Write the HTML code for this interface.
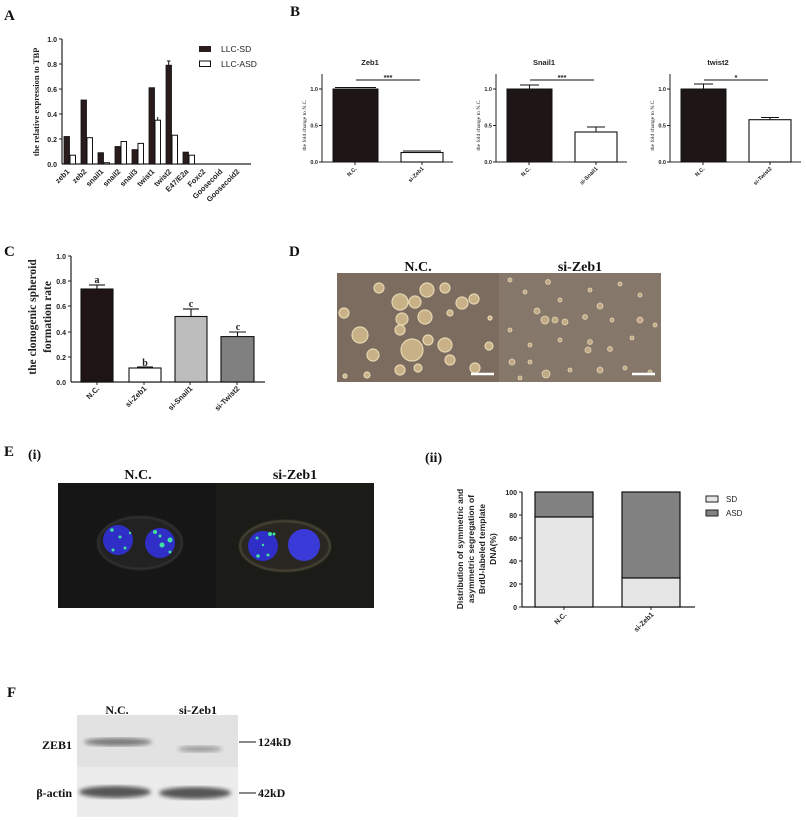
<!DOCTYPE html>
<html><head><meta charset="utf-8"><style>body{margin:0;background:#fff}svg{display:block}</style></head><body>
<svg width="806" height="820" xmlns="http://www.w3.org/2000/svg">
<defs>
<filter id="blur2"><feGaussianBlur stdDeviation="2"/></filter>
<filter id="blur1"><feGaussianBlur stdDeviation="0.8"/></filter>
</defs>
<g font-family="Liberation Serif" font-weight="bold" font-size="15" fill="#111">
<text x="4" y="20">A</text><text x="290" y="16">B</text><text x="4" y="256">C</text><text x="289" y="256">D</text><text x="4" y="456">E</text><text x="7" y="697">F</text>
<text x="28" y="459" font-size="14">(i)</text><text x="425" y="462" font-size="14">(ii)</text>
</g>

<!-- Panel A -->
<g font-family="Liberation Sans" font-weight="bold" font-size="7" fill="#222">
<line x1="62" y1="39" x2="62" y2="164" stroke="#222" stroke-width="1.2"/>
<line x1="62" y1="164" x2="251" y2="164" stroke="#222" stroke-width="1.2"/>
<g text-anchor="end">
<text x="57" y="42">1.0</text><text x="57" y="67">0.8</text><text x="57" y="92">0.6</text><text x="57" y="117">0.4</text><text x="57" y="142">0.2</text><text x="57" y="167">0.0</text></g>
<g stroke="#222"><line x1="59" y1="39" x2="62" y2="39"/><line x1="59" y1="64" x2="62" y2="64"/><line x1="59" y1="89" x2="62" y2="89"/><line x1="59" y1="114" x2="62" y2="114"/><line x1="59" y1="139" x2="62" y2="139"/></g>
<g fill="#2a1c1c" stroke="#111" stroke-width="0.8">
<rect x="64" y="136.5" width="5.5" height="27.5"/><rect x="81" y="100" width="5.5" height="64"/><rect x="98" y="152.7" width="5.5" height="11.3"/><rect x="115" y="146.5" width="5.5" height="17.5"/><rect x="132" y="149.6" width="5.5" height="14.4"/><rect x="149" y="87.7" width="5.5" height="76.3"/><rect x="166" y="65.2" width="5.5" height="98.8"/><rect x="183" y="152.1" width="5.5" height="11.9"/>
</g>
<g fill="#fff" stroke="#111" stroke-width="1">
<rect x="70" y="155.2" width="5.5" height="8.8"/><rect x="87" y="137.7" width="5.5" height="26.3"/><rect x="104" y="162.7" width="5.5" height="1.3"/><rect x="121" y="141.5" width="5.5" height="22.5"/><rect x="138" y="143.4" width="5.5" height="20.6"/><rect x="155" y="120.2" width="5.5" height="43.8"/><rect x="172" y="135.2" width="5.5" height="28.8"/><rect x="189" y="155.2" width="5.5" height="8.8"/>
</g>
<line x1="168.7" y1="61" x2="168.7" y2="65" stroke="#111"/><line x1="167" y1="61" x2="170.5" y2="61" stroke="#111"/>
<line x1="157.7" y1="117" x2="157.7" y2="120" stroke="#111"/>
<rect x="199" y="46" width="12" height="6" fill="#2a1c1c"/><rect x="199.5" y="61" width="11" height="5.5" fill="#fff" stroke="#111"/>
<text x="221" y="52" font-weight="normal" font-size="8.5">LLC-SD</text><text x="221" y="67" font-weight="normal" font-size="8.5">LLC-ASD</text>
<g text-anchor="end" font-size="7.5">
<text transform="translate(70,172) rotate(-45)">zeb1</text><text transform="translate(87,172) rotate(-45)">zeb2</text><text transform="translate(104,172) rotate(-45)">snail1</text><text transform="translate(121,172) rotate(-45)">snail2</text><text transform="translate(138,172) rotate(-45)">snail3</text><text transform="translate(155,172) rotate(-45)">twist1</text><text transform="translate(172,172) rotate(-45)">twist2</text><text transform="translate(189,172) rotate(-45)">E47/E2a</text><text transform="translate(206,172) rotate(-45)">Foxc2</text><text transform="translate(223,172) rotate(-45)">Goosecoid</text><text transform="translate(240,172) rotate(-45)">Goosecoid2</text>
</g>
<text transform="translate(39,102) rotate(-90)" text-anchor="middle" font-family="Liberation Serif" font-size="8.5">the relative expression  to TBP</text>
</g>

<!-- Panel B -->
<g font-family="Liberation Sans" fill="#222">
<g id="b1">
<line x1="322" y1="74" x2="322" y2="162" stroke="#222"/><line x1="322" y1="162" x2="453" y2="162" stroke="#222"/>
<g stroke="#222"><line x1="319" y1="89" x2="322" y2="89"/><line x1="319" y1="125.5" x2="322" y2="125.5"/><line x1="319" y1="162" x2="322" y2="162"/><line x1="355" y1="162" x2="355" y2="165"/><line x1="422" y1="162" x2="422" y2="165"/></g>
<g font-size="5.5" font-weight="bold" text-anchor="end"><text x="318" y="91">1.0</text><text x="318" y="127.5">0.5</text><text x="318" y="164">0.0</text></g>
<text transform="translate(306,125) rotate(-90)" text-anchor="middle" font-family="Liberation Serif" font-size="5.5">the fold change  to N.C.</text>
</g>
<use href="#b1" x="174"/><use href="#b1" x="348"/>
<g fill="#1e1616" stroke="#111">
<rect x="333" y="89" width="45" height="73"/><rect x="507" y="89" width="45" height="73"/><rect x="681" y="89" width="45" height="73"/></g>
<g fill="#fff" stroke="#111" stroke-width="1.1">
<rect x="401" y="152.5" width="42" height="9.5"/><rect x="575" y="132" width="42" height="30"/><rect x="749" y="119.7" width="42" height="42.3"/></g>
<g stroke="#111" stroke-width="1">
<line x1="335" y1="87.5" x2="376" y2="87.5"/><line x1="403" y1="151" x2="441" y2="151"/>
<line x1="529.5" y1="89" x2="529.5" y2="85"/><line x1="520" y1="85" x2="539" y2="85"/><line x1="596" y1="132" x2="596" y2="127"/><line x1="587" y1="127" x2="605" y2="127"/>
<line x1="703.5" y1="89" x2="703.5" y2="84"/><line x1="694" y1="84" x2="713" y2="84"/><line x1="770" y1="119.7" x2="770" y2="117.5"/><line x1="761" y1="117.5" x2="779" y2="117.5"/>
<line x1="356" y1="80" x2="420" y2="80"/><line x1="530" y1="80" x2="594" y2="80"/><line x1="704" y1="80" x2="768" y2="80"/></g>
<g font-size="7.5" font-weight="bold" text-anchor="middle"><text x="370" y="65">Zeb1</text><text x="544" y="65">Snail1</text><text x="718" y="65">twist2</text>
<text x="388" y="80">***</text><text x="562" y="80">***</text><text x="736" y="80">*</text></g>
<g font-size="5.5" font-weight="bold" text-anchor="end">
<text transform="translate(357,169) rotate(-45)">N.C.</text><text transform="translate(424,169) rotate(-45)">si-Zeb1</text>
<text transform="translate(531,169) rotate(-45)">N.C.</text><text transform="translate(598,169) rotate(-45)">si-Snail1</text>
<text transform="translate(705,169) rotate(-45)">N.C.</text><text transform="translate(772,169) rotate(-45)">si-Twist2</text></g>
</g>

<!-- Panel C -->
<g font-family="Liberation Sans" font-weight="bold" font-size="7" fill="#222">
<line x1="71" y1="256" x2="71" y2="382" stroke="#222" stroke-width="1.2"/><line x1="71" y1="382" x2="265" y2="382" stroke="#222" stroke-width="1.2"/>
<g stroke="#222"><line x1="68" y1="256" x2="71" y2="256"/><line x1="68" y1="281" x2="71" y2="281"/><line x1="68" y1="306" x2="71" y2="306"/><line x1="68" y1="332" x2="71" y2="332"/><line x1="68" y1="357" x2="71" y2="357"/><line x1="97" y1="382" x2="97" y2="385"/><line x1="144" y1="382" x2="144" y2="385"/><line x1="190" y1="382" x2="190" y2="385"/><line x1="237" y1="382" x2="237" y2="385"/></g>
<g text-anchor="end"><text x="66" y="259">1.0</text><text x="66" y="284">0.8</text><text x="66" y="309">0.6</text><text x="66" y="335">0.4</text><text x="66" y="360">0.2</text><text x="66" y="385">0.0</text></g>
<g stroke="#111" stroke-width="1.1">
<rect x="81" y="289" width="32" height="93" fill="#1e1414"/><rect x="129" y="368" width="32" height="14" fill="#fff"/><rect x="175" y="316.5" width="32" height="65.5" fill="#bdbdbd"/><rect x="221" y="336.6" width="33" height="45.4" fill="#808080"/>
<line x1="97" y1="289" x2="97" y2="285"/><line x1="89" y1="285" x2="105" y2="285"/>
<line x1="137" y1="367" x2="153" y2="367"/>
<line x1="191" y1="316" x2="191" y2="309"/><line x1="183" y1="309" x2="199" y2="309"/>
<line x1="237.5" y1="336" x2="237.5" y2="332"/><line x1="229" y1="332" x2="246" y2="332"/></g>
<g font-family="Liberation Serif" font-size="10" text-anchor="middle"><text x="97" y="283">a</text><text x="145" y="366">b</text><text x="191" y="307">c</text><text x="238" y="330">c</text></g>
<g text-anchor="end" font-size="7.5">
<text transform="translate(100,389) rotate(-45)">N.C.</text><text transform="translate(147,389) rotate(-45)">si-Zeb1</text><text transform="translate(193,389) rotate(-45)">si-Snail1</text><text transform="translate(240,389) rotate(-45)">si-Twist2</text></g>
<g font-family="Liberation Serif" font-size="11.5" text-anchor="middle">
<text transform="translate(36,317) rotate(-90)">the clonogenic spheroid</text><text transform="translate(51,317) rotate(-90)">formation rate</text></g>
</g>

<!-- Panel D -->
<g font-family="Liberation Serif" font-weight="bold" font-size="14" fill="#111" text-anchor="middle">
<text x="418" y="271">N.C.</text><text x="580" y="271">si-Zeb1</text><text x="138" y="479">N.C.</text><text x="295" y="479">si-Zeb1</text></g>
<rect x="337" y="273" width="162" height="109" fill="#7b6c5f"/>
<rect x="499" y="273" width="162" height="109" fill="#86776b"/>
<g fill="#d2b98c" stroke="#f1e2bb" stroke-width="1.2" opacity="0.9">
<circle cx="379" cy="288" r="5"/><circle cx="400" cy="302" r="8"/><circle cx="427" cy="290" r="7"/><circle cx="415" cy="302" r="6"/><circle cx="445" cy="288" r="5"/><circle cx="462" cy="303" r="6"/><circle cx="474" cy="299" r="5"/><circle cx="344" cy="313" r="5"/><circle cx="402" cy="319" r="6"/><circle cx="425" cy="317" r="7"/><circle cx="360" cy="335" r="8"/><circle cx="373" cy="355" r="6"/><circle cx="400" cy="330" r="5"/><circle cx="412" cy="350" r="11"/><circle cx="428" cy="340" r="5"/><circle cx="445" cy="345" r="7"/><circle cx="450" cy="360" r="5"/><circle cx="367" cy="375" r="3"/><circle cx="400" cy="370" r="5"/><circle cx="418" cy="368" r="4"/><circle cx="450" cy="313" r="3"/><circle cx="489" cy="346" r="4"/><circle cx="475" cy="368" r="5"/><circle cx="345" cy="376" r="2"/><circle cx="490" cy="318" r="2"/>
</g>
<g fill="#c7b08a" stroke="#efdfb8" stroke-width="0.8" opacity="0.9">
<circle cx="510" cy="280" r="2"/><circle cx="525" cy="292" r="2"/><circle cx="548" cy="282" r="2.5"/><circle cx="560" cy="300" r="2"/><circle cx="590" cy="290" r="2"/><circle cx="620" cy="284" r="2"/><circle cx="640" cy="295" r="2"/><circle cx="537" cy="311" r="3"/><circle cx="545" cy="320" r="4"/><circle cx="555" cy="320" r="3"/><circle cx="565" cy="322" r="3"/><circle cx="585" cy="317" r="2.5"/><circle cx="600" cy="306" r="3"/><circle cx="612" cy="320" r="2"/><circle cx="640" cy="320" r="3"/><circle cx="655" cy="325" r="2"/><circle cx="510" cy="330" r="2"/><circle cx="530" cy="345" r="2"/><circle cx="560" cy="340" r="2"/><circle cx="590" cy="342" r="2.5"/><circle cx="588" cy="350" r="3"/><circle cx="610" cy="349" r="2.5"/><circle cx="632" cy="338" r="2"/><circle cx="512" cy="362" r="3"/><circle cx="530" cy="362" r="2"/><circle cx="546" cy="374" r="4"/><circle cx="570" cy="370" r="2"/><circle cx="600" cy="370" r="3"/><circle cx="625" cy="368" r="2"/><circle cx="650" cy="372" r="2"/><circle cx="520" cy="378" r="2"/>
</g>
<g stroke="#fff" stroke-width="2.5"><line x1="471" y1="374" x2="494" y2="374"/><line x1="632" y1="374" x2="655" y2="374"/></g>

<!-- Panel E(i) -->
<rect x="58" y="483" width="158" height="125" fill="#161616"/>
<rect x="216" y="483" width="158" height="125" fill="#1b1b17"/>
<ellipse cx="140" cy="543" rx="42" ry="26" fill="#232323" stroke="#333" stroke-width="2" filter="url(#blur1)"/>
<ellipse cx="285" cy="546" rx="45" ry="25" fill="#2a2620" stroke="#4a4a38" stroke-width="2" filter="url(#blur1)"/>
<circle cx="118" cy="540" r="15" fill="#2f2fc8"/><circle cx="160" cy="543" r="15" fill="#2f2fc8"/>
<circle cx="263" cy="546" r="15" fill="#2f2fc8"/><circle cx="304" cy="545" r="16" fill="#3a3ad8"/>
<g fill="#3fe0a0">
<circle cx="112" cy="530" r="1.8"/><circle cx="120" cy="537" r="1.5"/><circle cx="125" cy="548" r="1.5"/><circle cx="113" cy="550" r="1.5"/><circle cx="130" cy="533" r="1.2"/>
<circle cx="155" cy="532" r="2"/><circle cx="170" cy="540" r="2.5"/><circle cx="162" cy="545" r="2.5"/><circle cx="170" cy="552" r="1.5"/><circle cx="160" cy="536" r="1.5"/>
<circle cx="257" cy="538" r="1.5"/><circle cx="270" cy="534" r="2"/><circle cx="274" cy="534" r="1.5"/><circle cx="258" cy="556" r="1.8"/><circle cx="268" cy="555" r="1.5"/><circle cx="263" cy="545" r="1.2"/></g>

<!-- Panel E(ii) -->
<g font-family="Liberation Sans" font-size="7" font-weight="bold" fill="#222">
<line x1="522" y1="492" x2="522" y2="607" stroke="#222" stroke-width="1.2"/><line x1="522" y1="607" x2="695" y2="607" stroke="#222" stroke-width="1.2"/>
<g stroke="#222"><line x1="519" y1="492" x2="522" y2="492"/><line x1="519" y1="515" x2="522" y2="515"/><line x1="519" y1="538" x2="522" y2="538"/><line x1="519" y1="561" x2="522" y2="561"/><line x1="519" y1="584" x2="522" y2="584"/><line x1="519" y1="607" x2="522" y2="607"/><line x1="564" y1="607" x2="564" y2="610"/><line x1="651" y1="607" x2="651" y2="610"/></g>
<g text-anchor="end"><text x="517" y="495">100</text><text x="517" y="518">80</text><text x="517" y="541">60</text><text x="517" y="564">40</text><text x="517" y="587">20</text><text x="517" y="610">0</text></g>
<g stroke="#111" stroke-width="1.2">
<rect x="535" y="492" width="58" height="25" fill="#828282"/><rect x="535" y="517" width="58" height="90" fill="#e6e6e6"/>
<rect x="622" y="492" width="58" height="86" fill="#828282"/><rect x="622" y="578" width="58" height="29" fill="#e6e6e6"/></g>
<rect x="706" y="496" width="12" height="6" fill="#e6e6e6" stroke="#222"/><rect x="706" y="510" width="12" height="6" fill="#828282" stroke="#222"/>
<text x="726" y="502" font-weight="normal" font-size="8">SD</text><text x="726" y="516" font-weight="normal" font-size="8">ASD</text>
<g text-anchor="end" font-size="7"><text transform="translate(567,615) rotate(-45)">N.C.</text><text transform="translate(654,615) rotate(-45)">si-Zeb1</text></g>
<g text-anchor="middle" font-size="8.5"><text transform="translate(463,549) rotate(-90)">Distribution of symmetric and</text><text transform="translate(474,549) rotate(-90)">asymmetric segregation of</text><text transform="translate(485,549) rotate(-90)">BrdU-labeled template</text><text transform="translate(496,549) rotate(-90)">DNA(%)</text></g>
</g>

<!-- Panel F -->
<rect x="77" y="715" width="161" height="52" fill="#e2e2e2"/>
<rect x="77" y="767" width="161" height="50" fill="#ececec"/>
<ellipse cx="118" cy="742" rx="34" ry="4" fill="#7a7a7a" filter="url(#blur2)"/>
<ellipse cx="200" cy="749" rx="22" ry="3" fill="#9a9a9a" filter="url(#blur2)"/>
<ellipse cx="115" cy="792" rx="36" ry="6" fill="#555" filter="url(#blur2)"/>
<ellipse cx="195" cy="793" rx="36" ry="6" fill="#555" filter="url(#blur2)"/>
<g font-family="Liberation Serif" font-weight="bold" font-size="12" fill="#111">
<text x="117" y="714" text-anchor="middle">N.C.</text><text x="198" y="714" text-anchor="middle">si-Zeb1</text>
<text x="72" y="749" text-anchor="end">ZEB1</text><text x="72" y="797" text-anchor="end">β-actin</text>
<text x="258" y="746">124kD</text><text x="258" y="797">42kD</text></g>
<g stroke="#111"><line x1="239" y1="742" x2="256" y2="742"/><line x1="239" y1="793" x2="256" y2="793"/></g>
</svg>
</body></html>
